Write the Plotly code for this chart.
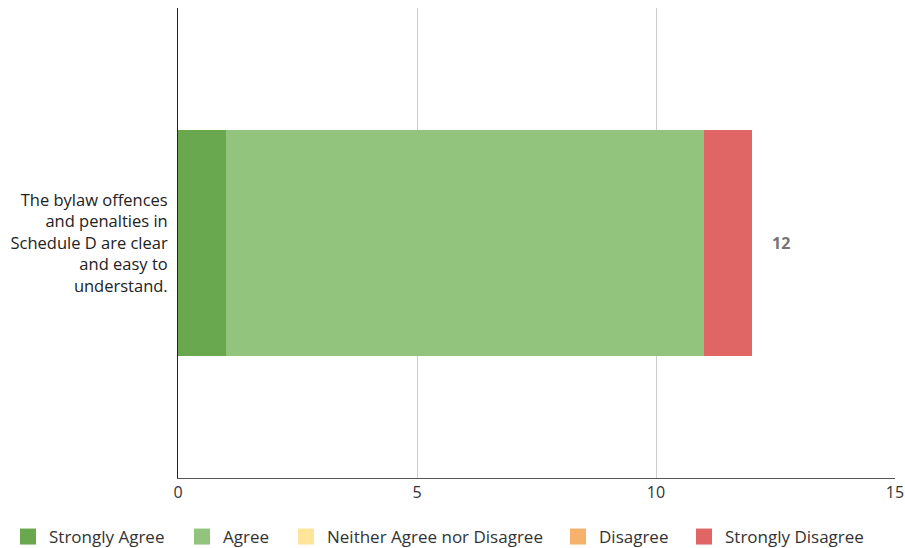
import plotly.graph_objects as go

question = ["The bylaw offences<br>and penalties in<br>Schedule D are clear<br>and easy to<br>understand."]
responses = ["Strongly Agree", "Agree", "Neither Agree nor Disagree", "Disagree", "Strongly Disagree"]
counts = [1, 10, 0, 0, 1]
colors = ["#6aa84f", "#93c47d", "#ffe599", "#f6b26b", "#e06666"]
x_ticks = [0, 5, 10, 15]

# left edge (px) of each legend entry, one legend per response
legend_left_px = [7, 181, 285, 557, 683]

W, H = 905, 548
L, R, T, B = 178, 10, 8, 70

fig = go.Figure()

for name, val, color in zip(responses, counts, colors):
    fig.add_trace(go.Bar(
        y=question,
        x=[val],
        name=name,
        orientation="h",
        marker=dict(color=color, line=dict(width=0)),
        width=0.48,
        showlegend=False,
    ))

# legend swatches (bigger squares than the bar legend symbol)
legends = {}
for i, (name, color) in enumerate(zip(responses, colors)):
    key = "legend" if i == 0 else f"legend{i + 1}"
    fig.add_trace(go.Scatter(
        x=[None], y=[None],
        name=name,
        mode="markers",
        marker=dict(symbol="square", size=18, color=color),
        legend=key,
        showlegend=True,
    ))
    legends[key] = dict(
        orientation="h",
        xref="container", yref="container",
        yanchor="middle", y=11 / H,
        xanchor="left", x=legend_left_px[i] / W,
        font=dict(size=17, color="#333333"),
        itemwidth=32,
        bgcolor="rgba(0,0,0,0)",
    )

total = sum(counts)
fig.add_annotation(
    x=total, y=question[0],
    text=f"<b>{total}</b>",
    showarrow=False,
    xanchor="left",
    xshift=18,
    font=dict(size=16, color="#757575"),
)

fig.update_layout(
    barmode="stack",
    width=W,
    height=H,
    paper_bgcolor="white",
    plot_bgcolor="white",
    font=dict(family="Open Sans", size=16, color="#222222"),
    margin=dict(l=L, r=R, t=T, b=B),
    xaxis=dict(
        range=[0, 15],
        tickvals=x_ticks,
        showgrid=True,
        gridcolor="#cccccc",
        gridwidth=1,
        zeroline=False,
        showline=True,
        linecolor="#555555",
        tickfont=dict(size=16, color="#333333"),
        ticks="",
        automargin=False,
    ),
    yaxis=dict(
        showline=True,
        linecolor="#222222",
        linewidth=1,
        ticks="",
        ticklabelstandoff=6,
        tickfont=dict(size=16.5, color="#222222"),
        automargin=False,
    ),
    **legends,
)

# drop the default 8px body margin so the figure fills the window
fig.write_html(
    "out.html",
    config={"displayModeBar": False},
    post_script="document.body.style.margin='0';document.body.style.overflow='hidden';",
)
